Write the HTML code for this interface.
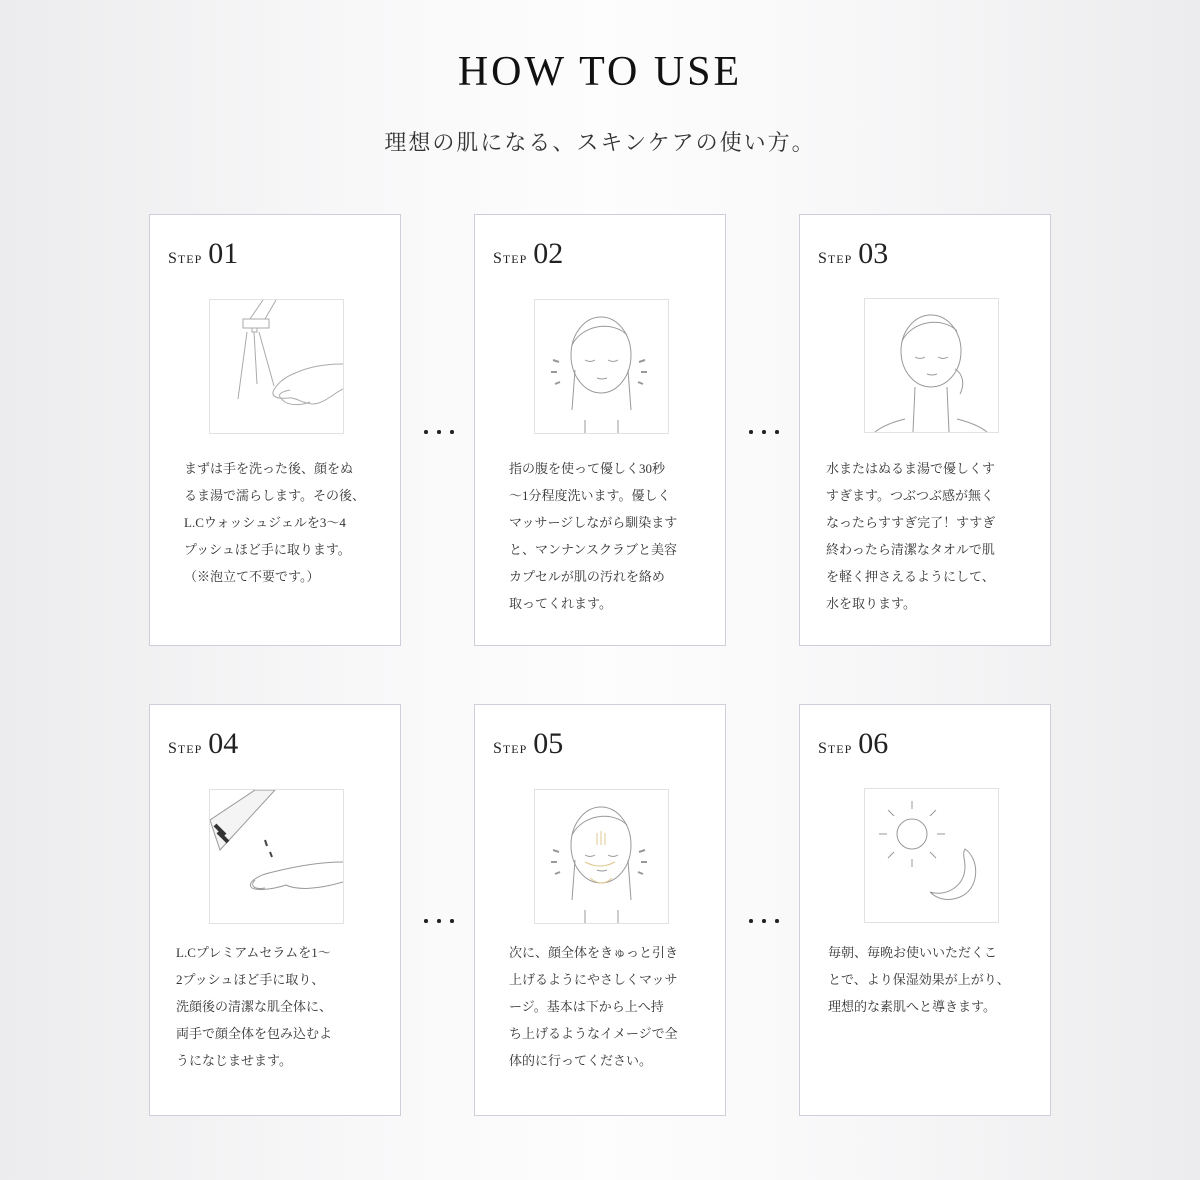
<!DOCTYPE html>
<html><head><meta charset="utf-8"><style>
*{margin:0;padding:0;box-sizing:border-box}
body{width:1200px;height:1180px;position:relative;overflow:hidden;background:linear-gradient(90deg,#ececee 0%,#f8f8f9 30%,#fdfdfd 50%,#f8f8f9 70%,#ececee 100%);font-family:"Liberation Serif","Noto Serif CJK SC",serif;color:#222}
h1{position:absolute;top:48px;left:0;width:1200px;text-align:center;font-weight:normal;font-size:42px;letter-spacing:3px;color:#111}
.sub{position:absolute;top:126px;left:0;width:1200px;text-align:center;font-size:22px;letter-spacing:2px;color:#333}
.card{position:absolute;width:252px;height:432px;background:#fff;border:1px solid #cfcfdc}
.r2{height:412px}
.step{position:absolute;left:18px;top:22px;font-size:30px;color:#222}
.step small{font-size:12px;letter-spacing:1px;font-variant:small-caps;margin-right:6px}
.step small b{font-weight:normal;font-size:16px}
.img{position:absolute;top:84px;width:135px;height:135px;border:1px solid #e2e2e2;background:#fff}
.txt{position:absolute;top:240px;font-size:13px;line-height:27px;color:#333;letter-spacing:0}
.dots{position:absolute;width:30px;height:4px}
.dots i{position:absolute;top:0;width:3.5px;height:3.5px;border-radius:50%;background:#222}
svg{display:block}
</style></head><body>
<h1>HOW TO USE</h1>
<div class="sub">理想の肌になる、スキンケアの使い方。</div>

<div class="card" style="left:149px;top:214px">
<div class="step"><small><b>S</b>TEP</small>01</div>
<div class="img" style="left:59px"><svg width="133" height="133" fill="none" stroke="#aaa" stroke-width="1"><path d="M33 19h26v9H33z M40 19l13-19 M55 19l11-19 M42 28v4h5v-4"/><path d="M37 32l-9 67 M44 32l3 52 M49 32l15 54"/><path d="M133 64c-20 0-35 3-50 10-10 4-18 12-20 18-1 5 5 7 15 6 8-1 15 6 25 6 10 0 20-10 30-15 M80 90c-10 2-15 5-5 12 6 4 18 3 25 0"/></svg></div>
<div class="txt" style="left:34px">まずは手を洗った後、顔をぬ<br>るま湯で濡らします。その後、<br>L.Cウォッシュジェルを3〜4<br>プッシュほど手に取ります。<br>（※泡立て不要です。）</div>
</div>
<div class="dots" style="left:424px;top:430px"><i style="left:0"></i><i style="left:13px"></i><i style="left:26px"></i></div>

<div class="card" style="left:474px;top:214px">
<div class="step"><small><b>S</b>TEP</small>02</div>
<div class="img" style="left:59px"><svg width="133" height="133" fill="none" stroke="#999" stroke-width="1"><ellipse cx="66" cy="55" rx="30" ry="38"/><path d="M37 45c10-20 40-25 55-10 M50 60q5 3 10 0 M73 60q5 3 10 0 M62 78q5 2 10 0 M40 70l-3 40 M93 70l3 40 M50 120l0 13 M83 120l0 13"/><path d="M18 60l6 2 M16 72h6 M20 84l5-2 M110 60l-6 2 M112 72h-6 M108 84l-5-2" stroke-width="2"/></svg></div>
<div class="txt" style="left:34px">指の腹を使って優しく30秒<br>〜1分程度洗います。優しく<br>マッサージしながら馴染ます<br>と、マンナンスクラブと美容<br>カプセルが肌の汚れを絡め<br>取ってくれます。</div>
</div>
<div class="dots" style="left:749px;top:430px"><i style="left:0"></i><i style="left:13px"></i><i style="left:26px"></i></div>

<div class="card" style="left:799px;top:214px">
<div class="step"><small><b>S</b>TEP</small>03</div>
<div class="img" style="left:64px;top:83px"><svg width="133" height="133" fill="none" stroke="#999" stroke-width="1"><ellipse cx="66" cy="52" rx="30" ry="36"/><path d="M37 42c10-20 40-25 55-10 M50 58q5 3 10 0 M73 58q5 3 10 0 M62 75q5 2 10 0 M90 70c8 5 10 15 5 25 M50 88l-2 45 M82 88l2 45 M40 120q-20 5-30 13 M92 120q20 5 30 13"/></svg></div>
<div class="txt" style="left:26px">水またはぬるま湯で優しくす<br>すぎます。つぶつぶ感が無く<br>なったらすすぎ完了！すすぎ<br>終わったら清潔なタオルで肌<br>を軽く押さえるようにして、<br>水を取ります。</div>
</div>

<div class="card r2" style="left:149px;top:704px">
<div class="step"><small><b>S</b>TEP</small>04</div>
<div class="img" style="left:59px"><svg width="133" height="133" fill="none" stroke="#999" stroke-width="1"><path d="M0 30l45-30h20L10 60z" fill="#f4f4f4"/><path d="M5 35l10 10 M8 42l10 10" stroke="#333" stroke-width="4"/><path d="M55 50l2 6 M60 62l2 5" stroke="#444" stroke-width="2"/><path d="M133 72c-25 0-50 5-70 10-15 3-25 10-22 15 3 4 20 3 35-2 10 5 30 5 57-3 M45 90c-5 5-2 10 10 8"/></svg></div>
<div class="txt" style="left:26px;top:234px">L.Cプレミアムセラムを1〜<br>2プッシュほど手に取り、<br>洗顔後の清潔な肌全体に、<br>両手で顔全体を包み込むよ<br>うになじませます。</div>
</div>
<div class="dots" style="left:424px;top:919px"><i style="left:0"></i><i style="left:13px"></i><i style="left:26px"></i></div>

<div class="card r2" style="left:474px;top:704px">
<div class="step"><small><b>S</b>TEP</small>05</div>
<div class="img" style="left:59px"><svg width="133" height="133" fill="none" stroke="#999" stroke-width="1"><ellipse cx="66" cy="55" rx="30" ry="38"/><path d="M37 45c10-20 40-25 55-10 M50 65q5 3 10 0 M73 65q5 3 10 0 M62 80q5 2 10 0 M40 70l-3 40 M93 70l3 40 M50 120l0 13 M83 120l0 13"/><path d="M62 55v-12 M66 55v-14 M70 55v-12 M50 72q15 8 30 0 M55 88q12 10 22 0" stroke="#e0c890"/><path d="M18 60l6 2 M16 72h6 M20 84l5-2 M110 60l-6 2 M112 72h-6 M108 84l-5-2" stroke-width="2"/></svg></div>
<div class="txt" style="left:34px;top:234px">次に、顔全体をきゅっと引き<br>上げるようにやさしくマッサ<br>ージ。基本は下から上へ持<br>ち上げるようなイメージで全<br>体的に行ってください。</div>
</div>
<div class="dots" style="left:749px;top:919px"><i style="left:0"></i><i style="left:13px"></i><i style="left:26px"></i></div>

<div class="card r2" style="left:799px;top:704px">
<div class="step"><small><b>S</b>TEP</small>06</div>
<div class="img" style="left:64px;top:83px"><svg width="133" height="133" fill="none" stroke="#999" stroke-width="1"><circle cx="47" cy="45" r="15"/><path d="M47 20v-8 M47 70v8 M22 45h-8 M72 45h8 M29 27l-6-6 M65 27l6-6 M29 63l-6 6 M65 63l6 6"/><path d="M100 60c15 10 15 40-5 48-15 6-25 0-30-5 15 5 35-5 35-25 0-8-3-13-0-18z"/></svg></div>
<div class="txt" style="left:28px;top:234px">毎朝、毎晩お使いいただくこ<br>とで、より保湿効果が上がり、<br>理想的な素肌へと導きます。</div>
</div>
</body></html>
